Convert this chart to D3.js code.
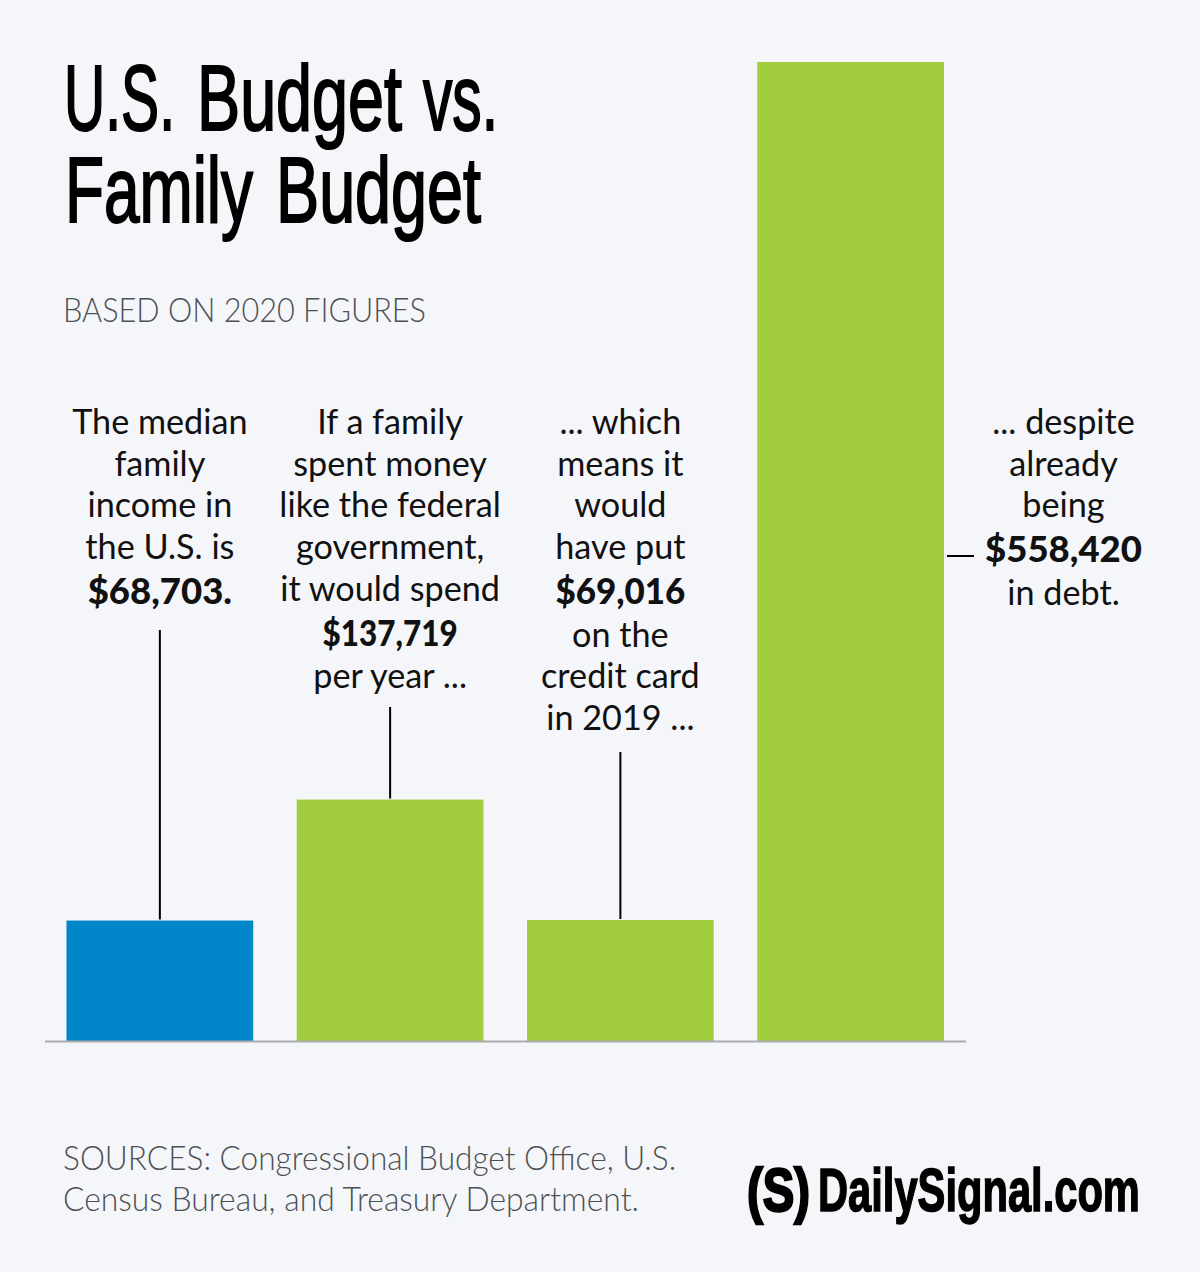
<!DOCTYPE html>
<html>
<head>
<meta charset="utf-8">
<script src="https://cdn.jsdelivr.net/npm/d3@7"></script>
<style>
  html, body { margin: 0; padding: 0; background: #f5f6f9; }
  svg { display: block; }
  .head { font-family: "Liberation Sans Narrow", "Liberation Sans", sans-serif; fill: #000; stroke: #000; }
  .body { font-family: Lato, "Open Sans", sans-serif; font-size: 34.2px; fill: #111; }
  .body.strong { font-size: 36.5px; font-weight: 900; }
  .grey { font-family: Lato, "Open Sans", sans-serif; font-size: 33px; font-weight: 300; fill: #4d5054; }
</style>
</head>
<body>
<script>
const categories = ["Median income", "Federal spending", "Credit card", "Debt"];
const values = [68703, 137719, 69016, 558420];
const barColors = ["#0086c9", "#a1cd3f", "#a1cd3f", "#a1cd3f"];

const subtitle = "BASED ON 2020 FIGURES";
const sourceLines = ["SOURCES: Congressional Budget Office, U.S.", "Census Bureau, and Treasury Department."];

// [word, left, right, baseline, font size, stroke]
const headWords = [
  ["U.S.", 64, 175, 130, 92, 2],
  ["Budget", 197, 402, 130, 92, 2],
  ["vs.", 423, 498, 130, 92, 2],
  ["Family", 65, 253, 222, 92, 2],
  ["Budget", 276, 481, 222, 92, 2],
  ["(S)", 747, 810, 1211, 62, 2.5],
  ["DailySignal.com", 818, 1140, 1211, 62, 1.5]
];

// one list of [text, baseline, bold] per bar
const labels = [
  [["The median", 434], ["family", 476], ["income in", 517], ["the U.S. is", 559], ["$68,703.", 604, true]],
  [["If a family", 434], ["spent money", 476], ["like the federal", 517], ["government,", 559], ["it would spend", 601], ["$137,719", 646, true], ["per year ...", 688]],
  [["... which", 434], ["means it", 476], ["would", 517], ["have put", 559], ["$69,016", 604, true], ["on the", 647], ["credit card", 688], ["in 2019 ...", 730]],
  [["... despite", 434], ["already", 476], ["being", 517], ["$558,420", 562, true], ["in debt.", 605]]
];
const leaderStarts = [630, 707, 752];

// Lato's figures run wide on these two amounts
const fittedAmounts = { "$137,719": 135, "$69,016": 130 };

const width = 1200;
const height = 1272;

const x = d3.scaleBand().domain(categories).range([66.5, 944]).paddingInner(0.189);
const y = d3.scaleLinear().domain([0, 558420]).range([1041, 62]);

const svg = d3.select("body").append("svg").attr("width", width).attr("height", height);

svg.append("rect").attr("width", width).attr("height", height).attr("fill", "#f5f6f9");

// squeeze a word into its left/right span with a plain x scale
svg.selectAll(".word").data(headWords).enter().append("text")
  .attr("class", "head word")
  .attr("font-size", d => d[4])
  .attr("stroke-width", d => d[5])
  .attr("font-weight", d => d[4] < 90 ? 700 : 400)
  .text(d => d[0])
  .attr("transform", function(d) {
    const box = this.getBBox();
    const sx = (d[2] - d[1]) / box.width;
    return `translate(${d[1]},${d[3]}) scale(${sx},1)`;
  });

svg.append("text").attr("class", "grey").attr("x", 63).attr("y", 322)
  .attr("textLength", 363).attr("lengthAdjust", "spacingAndGlyphs").text(subtitle);

// bars
svg.selectAll(".bar").data(values).enter().append("rect")
  .attr("class", "bar")
  .attr("x", (d, i) => x(categories[i]))
  .attr("y", d => y(d))
  .attr("width", x.bandwidth())
  .attr("height", d => y(0) - y(d))
  .attr("fill", (d, i) => barColors[i]);

// baseline
svg.append("line").attr("x1", 45).attr("x2", 966).attr("y1", y(0) + 0.5).attr("y2", y(0) + 0.5)
  .attr("stroke", "#a9abae").attr("stroke-width", 2);

// leader lines
svg.selectAll(".leader").data(leaderStarts).enter().append("line")
  .attr("class", "leader")
  .attr("x1", (d, i) => x(categories[i]) + x.bandwidth() / 2)
  .attr("x2", (d, i) => x(categories[i]) + x.bandwidth() / 2)
  .attr("y1", d => d)
  .attr("y2", (d, i) => y(values[i]) - 1)
  .attr("stroke", "#000").attr("stroke-width", 2);

svg.append("line").attr("x1", 947).attr("x2", 974).attr("y1", 556).attr("y2", 556)
  .attr("stroke", "#000").attr("stroke-width", 2);

// labels
const labelCenters = categories.map((c, i) => i < 3 ? x(c) + x.bandwidth() / 2 : 1063.5);
labels.forEach((lines, i) => {
  svg.append("g").selectAll("text").data(lines).enter().append("text")
    .attr("class", d => d[2] ? "body strong" : "body")
    .attr("x", labelCenters[i])
    .attr("y", d => d[1])
    .attr("text-anchor", "middle")
    .attr("textLength", d => fittedAmounts[d[0]] || null)
    .attr("lengthAdjust", "spacingAndGlyphs")
    .text(d => d[0]);
});

// sources
svg.selectAll(".source").data(sourceLines).enter().append("text")
  .attr("class", "grey source")
  .attr("x", 63)
  .attr("y", (d, i) => [1170, 1211][i])
  .attr("textLength", (d, i) => [613, 576][i])
  .attr("lengthAdjust", "spacingAndGlyphs")
  .text(d => d);
</script>
</body>
</html>
